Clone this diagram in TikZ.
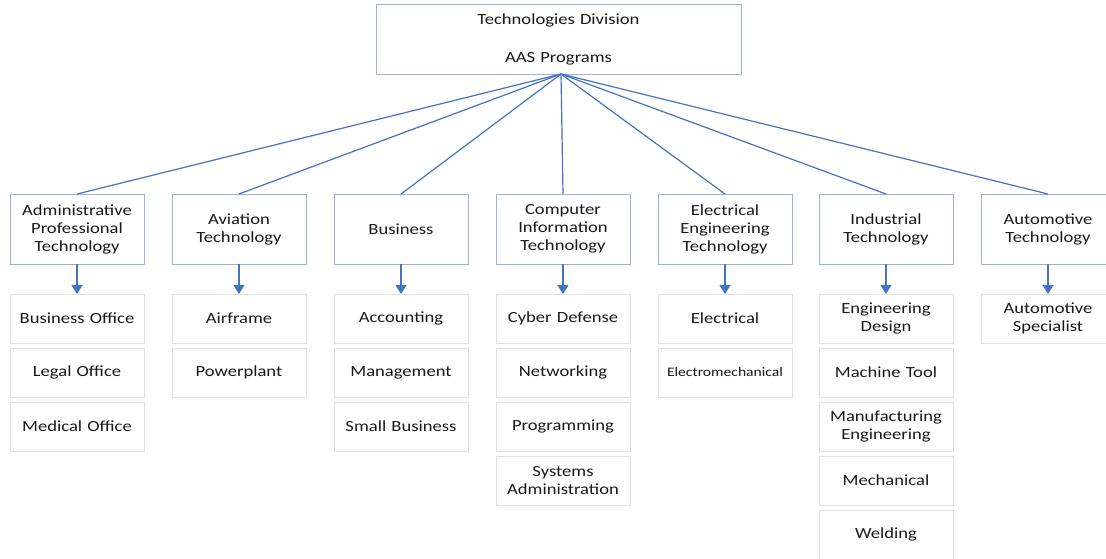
\documentclass[tikz,border=0pt]{standalone}
\usepackage{fontspec}
\setmainfont{Carlito}[FakeStretch=1.2]
\usetikzlibrary{arrows.meta, positioning}
\definecolor{linkblue}{HTML}{4472C4}
\definecolor{headline}{HTML}{9DB3DE}
\definecolor{progline}{HTML}{E2E2E2}

\begin{document}
\begin{tikzpicture}[x=1pt, y=-1pt,
    every node/.style={text=black!90, font=\fontsize{15.5}{18}\selectfont, outer sep=0pt},
    head/.style={draw=headline, line width=0.9pt, minimum width=134pt, minimum height=70pt, text width=130pt, align=center, inner sep=0pt},
    prog/.style={draw=progline, line width=0.9pt, minimum width=134pt, minimum height=49pt, text width=130pt, align=center, inner sep=0pt},
    link/.style={draw=linkblue, line width=1.2pt},
    down/.style={link, -{Triangle[width=11pt, length=9pt]}},
]
\useasboundingbox (0,0) rectangle (1106,558);

\node[head, minimum width=365pt, text width=360pt] (div) at (558.5,39)
    {Technologies Division\\[20pt]AAS Programs};
\coordinate (hub) at ([xshift=2.5pt]div.south);

\node[head] (adm) at (77,229)   {Administrative\\Professional\\Technology};
\node[head] (avi) at (239,229)  {Aviation\\Technology};
\node[head] (bus) at (401,229)  {Business};
\node[head] (cit) at (563,229)  {Computer\\Information\\Technology};
\node[head] (eet) at (725,229)  {Electrical\\Engineering\\Technology};
\node[head] (ind) at (886,229)  {Industrial\\Technology};
\node[head] (aut) at (1048,229) {Automotive\\Technology};

\foreach \h in {adm,avi,bus,cit,eet,ind,aut}
    \draw[link] (hub) -- (\h.north);

\node[prog, below=30pt of adm] (adm1) {Business Office};
\node[prog, below=5pt of adm1] (adm2) {Legal Office};
\node[prog, below=5pt of adm2] (adm3) {Medical Office};

\node[prog, below=30pt of avi] (avi1) {Airframe};
\node[prog, below=5pt of avi1] (avi2) {Powerplant};

\node[prog, below=30pt of bus] (bus1) {Accounting};
\node[prog, below=5pt of bus1] (bus2) {Management};
\node[prog, below=5pt of bus2] (bus3) {Small Business};

\node[prog, below=30pt of cit] (cit1) {Cyber Defense};
\node[prog, below=5pt of cit1] (cit2) {Networking};
\node[prog, below=5pt of cit2] (cit3) {Programming};
\node[prog, below=5pt of cit3] (cit4) {Systems\\Administration};

\node[prog, below=30pt of eet] (eet1) {Electrical};
\node[prog, below=5pt of eet1, font=\fontsize{13}{16}\selectfont] (eet2) {Electromechanical};

\node[prog, below=30pt of ind] (ind1) {Engineering\\Design};
\node[prog, below=5pt of ind1] (ind2) {Machine Tool};
\node[prog, below=5pt of ind2] (ind3) {Manufacturing\\Engineering};
\node[prog, below=5pt of ind3] (ind4) {Mechanical};
\node[prog, below=5pt of ind4] (ind5) {Welding};

\node[prog, below=30pt of aut] (aut1) {Automotive\\Specialist};

\foreach \h in {adm,avi,bus,cit,eet,ind,aut}
    \draw[down] (\h.south) -- (\h1.north);
\end{tikzpicture}
\end{document}
